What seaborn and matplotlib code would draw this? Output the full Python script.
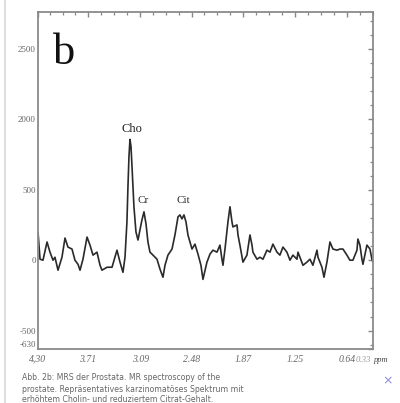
import numpy as np
import pandas as pd
import matplotlib
matplotlib.use("Agg")
import matplotlib.pyplot as plt
import seaborn as sns
from matplotlib.ticker import FixedLocator

# spectrum (ppm, signal)
ppm = [4.300, 4.276, 4.241, 4.193, 4.158, 4.122, 4.099, 4.063, 4.016, 3.980,
       3.945, 3.897, 3.862, 3.826, 3.802, 3.767, 3.719, 3.684, 3.648, 3.601,
       3.565, 3.542, 3.482, 3.423, 3.364, 3.328, 3.293, 3.269, 3.246, 3.234,
       3.222, 3.210, 3.198, 3.186, 3.163, 3.139, 3.115, 3.092, 3.068, 3.044,
       3.020, 2.997, 2.973, 2.937, 2.890, 2.854, 2.819, 2.795, 2.760, 2.712,
       2.677, 2.641, 2.618, 2.594, 2.570, 2.546, 2.523, 2.475, 2.440, 2.404,
       2.369, 2.345, 2.298, 2.262, 2.227, 2.179, 2.144, 2.120, 2.108, 2.084,
       2.049, 2.025, 2.001, 1.990, 1.942, 1.930, 1.907, 1.871, 1.824, 1.788,
       1.764, 1.753, 1.705, 1.670, 1.634, 1.587, 1.551, 1.516, 1.468, 1.433,
       1.397, 1.350, 1.314, 1.279, 1.231, 1.219, 1.196, 1.160, 1.113, 1.077,
       1.042, 0.994, 0.982, 0.935, 0.911, 0.876, 0.840, 0.805, 0.757, 0.722,
       0.686, 0.639, 0.604, 0.568, 0.520, 0.509, 0.485, 0.461, 0.449, 0.402,
       0.366, 0.343, 0.330]
signal = [200, 7, 0, 129, 57, 0, 21, -71, 21, 157,
          93, 79, 0, -29, -71, 7, 164, 107, 36, 57,
          -36, -71, -50, -50, 71, -14, -86, 21, 271, 521,
          736, 857, 807, 664, 379, 200, 143, 214, 286, 343,
          257, 129, 57, 36, 7, -64, -121, -36, 36, 79,
          179, 307, 321, 293, 321, 271, 179, 79, 114, 43,
          -36, -136, -14, 43, 71, 57, 107, 7, -36, 79,
          271, 379, 271, 236, 250, 179, 107, -14, 36, 179,
          107, 57, 7, 21, 7, 71, 57, 114, 57, 36,
          93, 57, 0, 36, 7, 57, 21, -36, -14, 7,
          -36, 71, 21, -50, -121, -14, 129, 79, 71, 79,
          79, 36, 0, 0, 71, 150, 107, 7, -29, 107,
          79, 7, -14]

x_ticks = [4.30, 3.71, 3.09, 2.48, 1.87, 1.25, 0.64]
x_labels = ["4,30", "3.71", "3.09", "2.48", "1.87", "1.25", "0.64"]
y_ticks = [1500, 1000, 500, 0, -500, -630]
y_labels = ["2500", "2000", "500", "0", "-500", "-630"]

peaks = {"Cho": (3.19, 930), "Cr": (3.05, 420), "Cit": (2.58, 420)}

caption = ["Abb. 2b: MRS der Prostata. MR spectroscopy of the",
           "prostate. Repräsentatives karzinomatöses Spektrum mit",
           "erhöhtem Cholin- und reduziertem Citrat-Gehalt."]

df = pd.DataFrame({"ppm": ppm, "signal": signal})

sns.set_style("white")
plt.rcParams['font.family'] = ['Liberation Serif', 'DejaVu Serif']

fig = plt.figure(figsize=(4.0, 4.03), dpi=100)
ax = fig.add_axes([0.095, 0.134, 0.8375, 0.836])

sns.lineplot(data=df, x="ppm", y="signal", ax=ax, color="#2a2a2a",
             linewidth=1.2, estimator=None, sort=False)

ax.set_xlim(4.30, 0.33)
ax.set_ylim(-630, 1760)
ax.set_xlabel("")
ax.set_ylabel("")

ax.set_xticks(x_ticks)
ax.set_xticklabels(x_labels, fontsize=7, style="italic", color="#666666")
minor_x = []
for a, b in zip(x_ticks[:-1], x_ticks[1:]):
    minor_x += list(np.linspace(a, b, 5)[1:-1])
minor_x += [0.487, 0.33]
ax.xaxis.set_minor_locator(FixedLocator(minor_x))

ax.set_yticks(y_ticks)
ax.set_yticklabels(y_labels, fontsize=6.5, color="#666666")
ax.get_yticklabels()[-1].set_va("bottom")
ax.yaxis.set_minor_locator(FixedLocator(np.arange(-600, 1760, 100)))

ax.tick_params(which="both", direction="in", top=True, right=True,
               color="#888888")
ax.tick_params(axis="x", which="major", pad=4)
ax.tick_params(axis="y", which="major", pad=1.5)
ax.tick_params(which="major", length=3.5, width=1.0)
ax.tick_params(which="minor", length=2.0, width=0.9)
for s in ax.spines.values():
    s.set_color("#8a8a8a")
    s.set_linewidth(1.3)

ax.text(0.948, -0.034, "0.33", transform=ax.transAxes, fontsize=6.3,
        style="italic", color="#9a9a9a", ha="left", va="center")
ax.text(1.0, -0.034, "ppm", transform=ax.transAxes, fontsize=6,
        style="italic", color="#444444", ha="left", va="center")

ax.text(0.045, 0.88, "b", transform=ax.transAxes, fontsize=32,
        color="#111111", ha="left", va="center")
for name, (px, py) in peaks.items():
    ax.text(px, py, name, fontsize=9 if name == "Cho" else 8,
            color="#222222", ha="center", va="center")

for i, line in enumerate(caption):
    fig.text(0.055, 1 - (378 + i * 11) / 403, line, fontsize=5.6,
             family="DejaVu Sans", color="#666666", ha="left", va="center")
fig.text(0.97, 1 - 381 / 403, "×", fontsize=9, family="DejaVu Sans",
         color="#8c8cdc", ha="center", va="center")
fig.add_artist(plt.Line2D([0.0125, 0.0125], [0, 1], color="#d8d8d8",
                          linewidth=1.2, transform=fig.transFigure))

fig.savefig("out.png", dpi=100, facecolor="white")
